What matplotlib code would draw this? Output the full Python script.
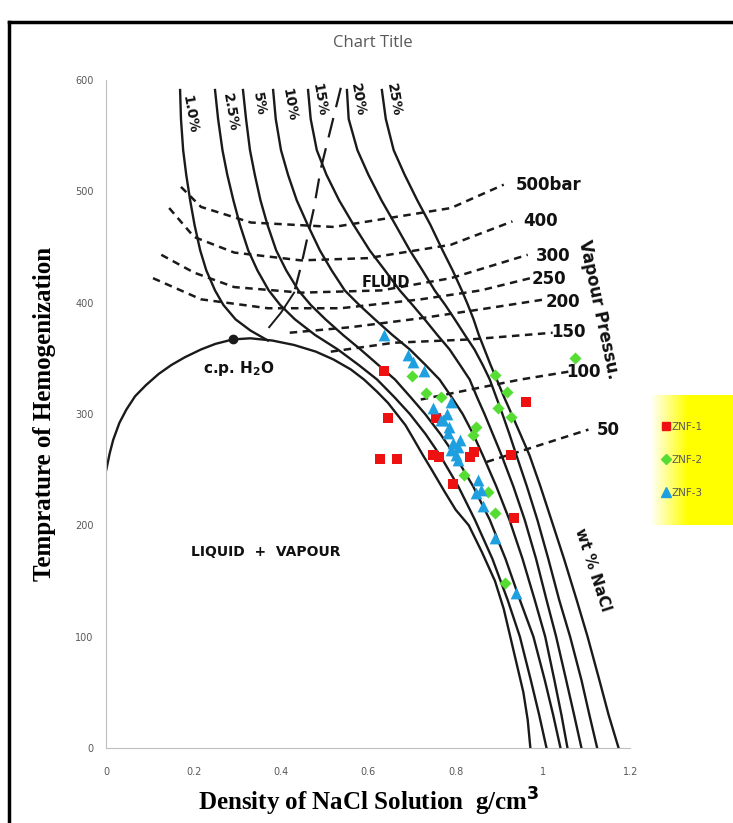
import numpy as np
import matplotlib.pyplot as plt
from matplotlib.lines import Line2D

# ---- scatter data (density g/cm3, Th degC) ----
znf1_x = [0.635, 0.646, 0.627, 0.665, 0.754, 0.747, 0.761, 0.832, 0.841, 0.795, 0.926, 0.960, 0.933]
znf1_t = [339, 296, 260, 260, 296, 263, 261, 261, 266, 237, 263, 311, 207]

znf2_x = [1.074, 0.891, 0.917, 0.896, 0.926, 0.699, 0.731, 0.766, 0.846, 0.839, 0.818, 0.875, 0.891, 0.914]
znf2_t = [350, 335, 320, 305, 297, 334, 319, 315, 288, 281, 245, 230, 211, 148]

znf3_x = [0.635, 0.690, 0.702, 0.727, 0.747, 0.789, 0.771, 0.782, 0.795, 0.789, 0.805, 0.800,
          0.811, 0.784, 0.851, 0.857, 0.846, 0.862, 0.891, 0.937, 0.766, 0.805, 0.780]
znf3_t = [371, 353, 347, 339, 305, 311, 295, 283, 274, 268, 270, 263,
          277, 288, 241, 232, 229, 217, 189, 139, 295, 259, 300]

# ---- background phase diagram ----
bubble_x = [0.0, 0.008, 0.016, 0.03, 0.046, 0.066, 0.091, 0.12, 0.149, 0.18, 0.217, 0.25, 0.29,
            0.33, 0.38, 0.43, 0.48, 0.52, 0.56, 0.59, 0.62, 0.645, 0.665, 0.685, 0.70, 0.725,
            0.745, 0.775, 0.80, 0.83, 0.86, 0.89, 0.91, 0.925, 0.943, 0.955, 0.965, 0.971]
bubble_t = [250, 265, 277, 292, 304, 316, 326, 336, 344, 351, 358, 363, 367,
            368, 366, 362, 356, 349, 340, 331, 320, 310, 300, 290, 280, 263,
            250, 230, 214, 200, 176, 150, 125, 100, 70, 50, 25, 0]

iso1_x = [0.169, 0.171, 0.176, 0.183, 0.192, 0.202, 0.215, 0.229, 0.249, 0.268, 0.296, 0.33, 0.37]
iso1_t = [591, 565, 537, 515, 492, 470, 447, 429, 411, 398, 385, 375, 366]

iso_t = [591, 565, 537, 515, 492, 470, 447, 429, 411, 398, 385, 371, 358, 344,
         331, 315, 300, 282, 263, 235, 205, 170, 133, 100, 61, 30, 0]
iso25_x = [0.249, 0.256, 0.266, 0.277, 0.291, 0.306, 0.325, 0.346, 0.372, 0.398, 0.432, 0.478, 0.530, 0.578,
           0.620, 0.660, 0.695, 0.731, 0.764, 0.806, 0.844, 0.884, 0.919, 0.947, 0.972, 0.991, 1.008]
iso5_x = [0.313, 0.320, 0.329, 0.340, 0.353, 0.369, 0.389, 0.412, 0.440, 0.468, 0.502, 0.542, 0.582, 0.623,
          0.661, 0.697, 0.730, 0.765, 0.798, 0.840, 0.878, 0.914, 0.947, 0.978, 1.004, 1.023, 1.040]
iso10_x = [0.382, 0.388, 0.400, 0.416, 0.436, 0.461, 0.489, 0.516, 0.546, 0.579, 0.615, 0.655, 0.695, 0.731,
           0.763, 0.791, 0.816, 0.840, 0.862, 0.893, 0.923, 0.953, 0.981, 1.005, 1.026, 1.042, 1.056]
iso15_x = [0.462, 0.468, 0.482, 0.504, 0.533, 0.566, 0.603, 0.638, 0.672, 0.701, 0.729, 0.758, 0.786, 0.810,
           0.832, 0.849, 0.866, 0.885, 0.905, 0.932, 0.958, 0.984, 1.008, 1.030, 1.053, 1.071, 1.088]
iso20_x = [0.551, 0.555, 0.575, 0.600, 0.630, 0.662, 0.695, 0.724, 0.752, 0.776, 0.798, 0.821, 0.843, 0.862,
           0.878, 0.893, 0.907, 0.923, 0.939, 0.963, 0.987, 1.012, 1.037, 1.062, 1.088, 1.106, 1.124]
iso250_x = [0.631, 0.640, 0.658, 0.683, 0.712, 0.742, 0.770, 0.793, 0.814, 0.828, 0.841, 0.853, 0.866, 0.880,
            0.894, 0.911, 0.928, 0.948, 0.969, 0.994, 1.019, 1.048, 1.077, 1.102, 1.129, 1.150, 1.173]
iso_names = ["1.0%", "2.5%", "5%", "10%", "15%", "20%", "25%"]

crit_x = [0.537, 0.491, 0.475, 0.446, 0.430]
crit_t = [593, 520, 484, 433, 409]
crit_tail_x = [0.430, 0.400, 0.373]
crit_tail_t = [409, 391, 378]

bar500 = ([0.171, 0.217, 0.331, 0.521, 0.789, 0.910], [504, 486, 472, 468, 485, 506])
bar400 = ([0.144, 0.201, 0.293, 0.446, 0.599, 0.789, 0.930], [485, 459, 445, 438, 440, 452, 473])
bar300 = ([0.126, 0.201, 0.293, 0.446, 0.629, 0.789, 0.965], [443, 427, 414, 409, 411, 422, 443])
bar250 = ([0.107, 0.217, 0.370, 0.537, 0.720, 0.857, 0.971], [422, 403, 395, 395, 403, 411, 422])
bar200 = ([0.420, 0.560, 0.720, 0.857, 1.005], [373, 378, 386, 394, 403])
bar150 = ([0.514, 0.658, 0.834, 1.022], [356, 364, 367, 373])
bar100 = ([0.720, 0.834, 0.949, 1.058], [313, 322, 331, 338])
bar50 = ([0.871, 0.976, 1.104], [257, 270, 286])
bar_names = ["500bar", "400", "300", "250", "200", "150", "100", "50"]

fig = plt.figure(figsize=(7.33, 8.23), dpi=100)
ax = fig.add_axes([0.145, 0.0911, 0.715, 0.8117])

ink = "#1a1a1a"
ax.plot(iso1_x, iso1_t, color=ink, lw=1.7, zorder=2)
for xs in [iso25_x, iso5_x, iso10_x, iso15_x, iso20_x, iso250_x]:
    ax.plot(xs, iso_t, color=ink, lw=1.7, zorder=2)
ax.plot(bubble_x, bubble_t, color=ink, lw=1.7, zorder=2)
ax.plot(crit_x, crit_t, color=ink, lw=1.6, dashes=(9, 5), zorder=2)
ax.plot(crit_tail_x, crit_tail_t, color=ink, lw=1.4, zorder=2)
ax.plot([0.29], [367], "o", color=ink, ms=6, zorder=3)

for xs, ts in [bar500, bar400, bar300, bar250, bar200, bar150, bar100, bar50]:
    ax.plot(xs, ts, color=ink, lw=1.8, dashes=(3, 2.2), zorder=2)

# diagram labels
lab_kw = dict(fontsize=10, fontweight="bold", color="#111111", ha="center", va="center", zorder=4)
iso_lab_x = [0.19, 0.283, 0.35, 0.418, 0.487, 0.576, 0.658]
iso_lab_t = [569, 571, 578, 578, 582, 582, 582]
for name, lx, lt in zip(iso_names, iso_lab_x, iso_lab_t):
    ax.text(lx, lt, name, rotation=-80, **lab_kw)

bar_lab_x = [1.012, 0.994, 1.024, 1.013, 1.045, 1.058, 1.093, 1.150]
bar_lab_t = [506, 473, 442, 421, 401, 374, 338, 286]
for name, lx, lt in zip(bar_names, bar_lab_x, bar_lab_t):
    ax.text(lx, lt, name, fontsize=12, fontweight="bold", color="#111111",
            ha="center", va="center", zorder=4)

ax.text(1.127, 394, "Vapour Pressu.", rotation=-78, fontsize=12, fontweight="bold",
        color="#111111", ha="center", va="center", zorder=4)
ax.text(1.113, 160, "wt % NaCl", rotation=-72, fontsize=11, fontweight="bold",
        color="#111111", ha="center", va="center", zorder=4)
ax.text(0.64, 418, "FLUID", fontsize=10.5, fontweight="bold", color="#111111",
        ha="center", va="center", zorder=4)
ax.text(0.304, 341, "c.p. H$_\\mathbf{2}$O", fontsize=11, fontweight="bold", color="#111111",
        ha="center", va="center", zorder=4)
ax.text(0.366, 176, "LIQUID  +  VAPOUR", fontsize=10, fontweight="bold", color="#111111",
        ha="center", va="center", zorder=4)

# samples
ax.scatter(znf1_x, znf1_t, marker="s", s=52, color="#ee1111", zorder=5, linewidths=0)
ax.scatter(znf2_x, znf2_t, marker="D", s=38, color="#55dd33", zorder=5, linewidths=0)
ax.scatter(znf3_x, znf3_t, marker="^", s=72, color="#1ea0e0", zorder=5, linewidths=0)

ax.set_xlim(0, 1.2)
ax.set_ylim(0, 600)
ax.set_xticks(np.arange(0, 1.21, 0.2))
ax.set_xticklabels(["0", "0.2", "0.4", "0.6", "0.8", "1", "1.2"])
ax.set_yticks(range(0, 601, 100))
ax.tick_params(axis="x", length=0, labelsize=7, colors="#595959", pad=14)
ax.tick_params(axis="y", length=0, labelsize=7, colors="#595959", pad=9)
for s in ["top", "right"]:
    ax.spines[s].set_visible(False)
for s in ["left", "bottom"]:
    ax.spines[s].set_color("#bfbfbf")
    ax.spines[s].set_linewidth(0.8)

ax.set_xlabel("Density of NaCl Solution  g/cm$^\\mathbf{3}$", family="Liberation Serif",
              fontsize=18, fontweight="bold", labelpad=6)
ax.set_ylabel("Temprature of Hemogenization", family="Liberation Serif",
              fontsize=18, fontweight="bold", labelpad=14)
fig.text(0.508, 0.948, "Chart Title", fontsize=12, color="#595959", ha="center",
         va="center", family="Open Sans")

# legend with yellow gradient panel
lax = fig.add_axes([650 / 733, 1 - 525 / 823, 83 / 733, 130 / 823])
gx = np.linspace(0, 1, 100)
grad = np.clip(gx * 2.2, 0, 1)
img = np.ones((10, 100, 3))
img[:, :, 2] = 1 - grad
lax.imshow(img, aspect="auto", extent=(0, 1, 0, 1))
lax.set_axis_off()
handles = [
    Line2D([], [], marker="s", color="#ee1111", ls="", ms=6),
    Line2D([], [], marker="D", color="#55dd33", ls="", ms=5),
    Line2D([], [], marker="^", color="#1ea0e0", ls="", ms=7),
]
lax.legend(handles, ["ZNF-1", "ZNF-2", "ZNF-3"], loc="center left", frameon=False,
           fontsize=7.5, labelcolor="#595959", handletextpad=0.1, handlelength=1.0,
           labelspacing=2.2, borderaxespad=0.6)

# outer black frame
fig.add_artist(Line2D([0.012, 0.012], [0, 0.973], color="black", lw=2.5))
fig.add_artist(Line2D([0.012, 1.0], [0.973, 0.973], color="black", lw=2.5))

fig.savefig("out.png", dpi=100)
